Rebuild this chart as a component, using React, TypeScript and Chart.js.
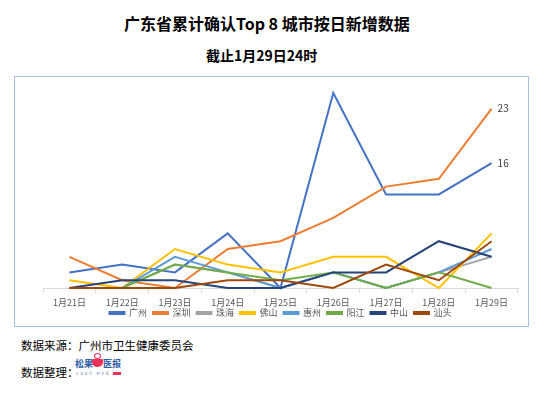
import React, { useEffect, useRef } from "react";
import { Chart, registerables } from "chart.js";

Chart.register(...registerables);

const categories = ["1月21日", "1月22日", "1月23日", "1月24日", "1月25日", "1月26日", "1月27日", "1月28日", "1月29日"];
const cityNames = ["广州", "深圳", "珠海", "佛山", "惠州", "阳江", "中山", "汕头"];
const guangzhou = [2, 3, 2, 7, 0, 25, 12, 12, 16];
const shenzhen = [4, 1, 0, 5, 6, 9, 13, 14, 23];
const zhuhai = [0, 0, 3, 2, 0, 2, 0, 2, 4];
const foshan = [1, 0, 5, 3, 2, 4, 4, 0, 7];
const huizhou = [0, 0, 4, 2, 0, 2, 0, 2, 5];
const yangjiang = [0, 0, 3, 2, 1, 2, 0, 2, 0];
const zhongshan = [0, 1, 1, 0, 0, 2, 2, 6, 4];
const shantou = [0, 0, 0, 1, 1, 0, 3, 1, 6];
const seriesValues = [guangzhou, shenzhen, zhuhai, foshan, huizhou, yangjiang, zhongshan, shantou];
const seriesColors = ["#4472C4", "#ED7D31", "#A5A5A5", "#FFC000", "#5B9BD5", "#70AD47", "#264478", "#9E480E"];
const labeledSeries = [0, 1];

const FONT = "'Noto Sans CJK SC', 'Noto Sans', sans-serif";

const endLabelPlugin = {
  id: "endLabels",
  afterLayout(chart: any) {
    if (chart.legend) {
      chart.legend.top -= 7.5;
      chart.legend.bottom -= 7.5;
    }
  },
  afterDatasetsDraw(chart: any) {
    const ctx = chart.ctx;
    ctx.save();
    ctx.font = `10px ${FONT}`;
    ctx.fillStyle = "#404040";
    ctx.textAlign = "left";
    ctx.textBaseline = "middle";
    labeledSeries.forEach((di) => {
      const meta = chart.getDatasetMeta(di);
      const last = meta.data.length - 1;
      const pt = meta.data[last];
      const v = chart.data.datasets[di].data[last];
      ctx.fillText(String(v), pt.x + 6, pt.y);
    });
    ctx.restore();
  },
};

function LineChart() {
  const ref = useRef<HTMLCanvasElement>(null);
  useEffect(() => {
    if (!ref.current) return;
    const chart = new Chart(ref.current, {
      type: "line",
      data: {
        labels: categories,
        datasets: seriesValues.map((vals, i) => ({
          label: cityNames[i],
          data: vals,
          borderColor: seriesColors[i],
          backgroundColor: seriesColors[i],
          borderWidth: 2,
          pointRadius: 0,
          tension: 0,
          fill: false,
          clip: false as any,
          order: seriesValues.length - 1 - i,
        })),
      },
      options: {
        responsive: false,
        animation: false,
        layout: { padding: { left: 28, right: 11, top: 15, bottom: 0 } },
        plugins: {
          tooltip: { enabled: false },
          legend: {
            position: "bottom",
            labels: {
              boxWidth: 15,
              boxHeight: 2,
              padding: 6,
              color: "#595959",
              font: { size: 9, family: FONT },
              sort: (a: any, b: any) => a.datasetIndex - b.datasetIndex,
            },
          },
        },
        scales: {
          x: {
            offset: true,
            grid: {
              offset: true,
              drawOnChartArea: false,
              drawTicks: true,
              tickLength: 5,
              color: "#D9D9D9",
            },
            border: { color: "#D9D9D9" },
            ticks: {
              color: "#595959",
              font: { size: 9, family: FONT },
              padding: 4,
              maxRotation: 0,
              autoSkip: false,
            },
            afterFit: (scale: any) => {
              scale.height = 22;
            },
          },
          y: {
            display: false,
            min: 0,
            max: 25,
          },
        },
      },
      plugins: [endLabelPlugin],
    });
    return () => chart.destroy();
  }, []);
  return (
    <canvas
      ref={ref}
      width={514}
      height={257}
      style={{ position: "absolute", left: 15, top: 78, width: 514, height: 257 }}
    />
  );
}

export default function App() {
  return (
    <div
      style={{
        position: "fixed",
        left: 0,
        top: 0,
        width: 554,
        height: 399,
        background: "#ffffff",
        fontFamily: FONT,
        overflow: "hidden",
      }}
    >
      <div
        style={{
          position: "absolute",
          left: 124,
          top: 12,
          fontSize: 16,
          fontWeight: 700,
          color: "#000",
          whiteSpace: "nowrap",
          lineHeight: "22px",
        }}
      >
        广东省累计确认Top 8 城市按日新增数据
      </div>
      <div
        style={{
          position: "absolute",
          left: 206,
          top: 45,
          fontSize: 14,
          fontWeight: 700,
          color: "#000",
          whiteSpace: "nowrap",
          lineHeight: "20px",
        }}
      >
        截止1月29日24时
      </div>
      <div
        style={{
          position: "absolute",
          left: 14,
          top: 76,
          width: 513,
          height: 249,
          border: "1.5px solid #A9BFE7",
        }}
      />
      <LineChart />
      <div
        style={{
          position: "absolute",
          left: 21,
          top: 337,
          fontSize: 11.5,
          color: "#000",
          whiteSpace: "nowrap",
          lineHeight: "16px",
        }}
      >
        数据来源：广州市卫生健康委员会
      </div>
      <div
        style={{
          position: "absolute",
          left: 21,
          top: 364,
          fontSize: 11.5,
          color: "#000",
          whiteSpace: "nowrap",
          lineHeight: "16px",
        }}
      >
        数据整理：
      </div>
      <div style={{ position: "absolute", left: 75, top: 353, width: 50, height: 28 }}>
        <div
          style={{
            position: "absolute",
            left: 0,
            top: 5,
            fontSize: 9,
            fontWeight: 700,
            color: "#2F5DA8",
            whiteSpace: "nowrap",
            lineHeight: "11px",
          }}
        >
          松果
        </div>
        <div
          style={{
            position: "absolute",
            left: 19,
            top: 0,
            width: 7,
            height: 6,
            borderRadius: "50%",
            border: "1.5px solid #E8325A",
            boxSizing: "border-box",
          }}
        />
        <div
          style={{
            position: "absolute",
            left: 17,
            top: 6,
            width: 11,
            height: 8,
            borderRadius: "1px 1px 5px 5px",
            background: "#E8325A",
          }}
        />
        <div
          style={{
            position: "absolute",
            left: 28,
            top: 5,
            fontSize: 9,
            fontWeight: 700,
            color: "#2F5DA8",
            whiteSpace: "nowrap",
            lineHeight: "11px",
          }}
        >
          医报
        </div>
        <div
          style={{
            position: "absolute",
            left: 1,
            top: 18,
            fontSize: 4,
            color: "#6A7FA8",
            whiteSpace: "nowrap",
            letterSpacing: 2,
            lineHeight: "5px",
          }}
        >
          Sooh Med
        </div>
        <div
          style={{
            position: "absolute",
            left: 38,
            top: 19,
            width: 8,
            height: 3,
            background: "#E8325A",
          }}
        />
      </div>
    </div>
  );
}
